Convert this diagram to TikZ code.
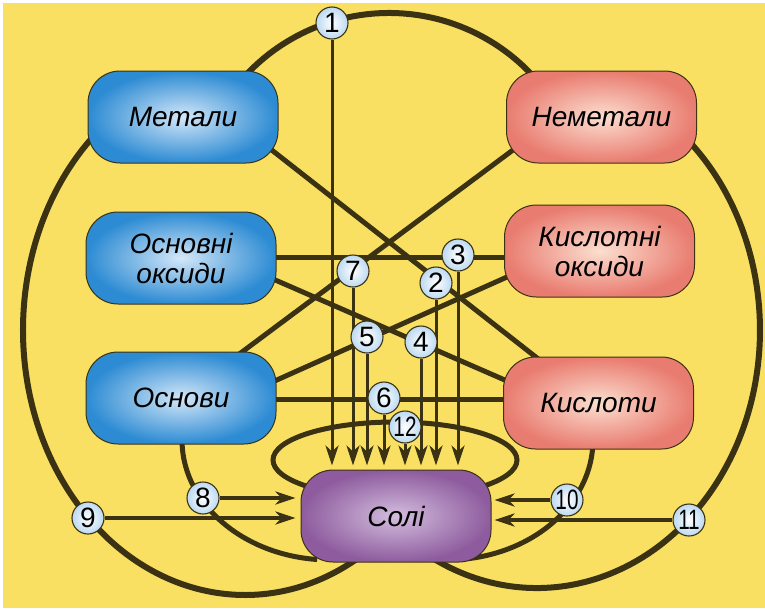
\documentclass[tikz,border=0pt]{standalone}
\usepackage{fontspec}
\usepackage{graphicx}
\setmainfont{Liberation Sans}
\usetikzlibrary{arrows.meta,calc}
\pgfdeclarelayer{paperlayer}
\pgfdeclarelayer{bg}
\pgfdeclarelayer{mid}
\pgfsetlayers{paperlayer,bg,mid,main}
\definecolor{paper}{HTML}{F9E063}
\definecolor{ink}{HTML}{3B3213}
\definecolor{bluein}{HTML}{D4E7F8}
\definecolor{blueout}{HTML}{2C8BD3}
\definecolor{redin}{HTML}{FBDFD0}
\definecolor{redout}{HTML}{E97C70}
\definecolor{violin}{HTML}{D3BDDE}
\definecolor{violout}{HTML}{8E5C9E}
\definecolor{numout}{HTML}{BCD9F1}
\newcommand\boxfont{\fontsize{28}{30}\selectfont\itshape}
\newcommand\numfont{\fontsize{28}{28}\selectfont}
\newcommand\narrow[1]{\scalebox{0.74}[1]{#1}}
\begin{document}
\begin{tikzpicture}[x=1pt,y=-1pt,
  box/.style={rectangle, rounded corners=32pt, minimum width=190pt,
    minimum height=92pt, draw=ink, line width=1pt, align=center,
    font=\boxfont, inner sep=0pt},
  bluebox/.style={box, inner color=bluein, outer color=blueout},
  redbox/.style={box, inner color=redin, outer color=redout},
  saltbox/.style={box, inner color=violin, outer color=violout},
  num/.style={circle, draw=ink, line width=1.1pt, inner color=white,
    outer color=numout, minimum size=32pt, inner sep=0pt, font=\numfont},
  big/.style={draw=ink, line width=6pt},
  link/.style={draw=ink, line width=5pt},
  varr/.style={draw=ink, line width=3pt,
    -{Stealth[length=20pt,width=13pt,inset=6pt]}, shorten >=4pt},
  harr/.style={draw=ink, line width=4pt,
    -{Stealth[length=20pt,width=13pt,inset=6pt]}},
]
\useasboundingbox (0,0) rectangle (765,608);
\begin{pgfonlayer}{paperlayer}
  \fill[white] (0,0) rectangle (765,608);
  \fill[paper] (3,3) rectangle (765,608);
\end{pgfonlayer}

% substance boxes
\node[bluebox] (met)  at (183,117)   {Метали};
\node[bluebox] (osok) at (181,258)   {Основні\\оксиди};
\node[bluebox] (osn)  at (181,398)   {Основи};
\node[redbox]  (nem)  at (601.5,117) {Неметали};
\node[redbox]  (kok)  at (599.5,251) {Кислотні\\оксиди};
\node[redbox]  (kys)  at (598.5,403) {Кислоти};
\node[saltbox] (soli) at (396,516)   {Солі};

% numbered reaction marks
\node[num] (n1)  at (332,23)  {1};
\node[num] (n2)  at (436,283) {2};
\node[num] (n3)  at (458,255) {3};
\node[num] (n4)  at (421,342) {4};
\node[num] (n5)  at (367,337) {5};
\node[num] (n6)  at (384,398) {6};
\node[num] (n7)  at (353,271) {7};
\node[num] (n8)  at (203,498) {8};
\node[num] (n9)  at (88,518)  {9};
\node[num] (n10) at (567,500) {\narrow{10}};
\node[num] (n11) at (689,520) {\narrow{11}};
\node[num] (n12) at (405,427) {\narrow{12}};

\begin{pgfonlayer}{bg}
  % outer loops
  \draw[big] ($(met.center)+(55.9,-34)$)
    arc[start angle=-140, end angle=-40, radius=196];
  \draw[big] ($(met.center)+(-80.7,10)$)
    arc[start angle=-130, end angle=-305, x radius=222, y radius=265];
  \draw[big] ($(nem.center)+(78.8,15.4)$)
    arc[start angle=-50, end angle=125, x radius=223, y radius=258];
  % inner loops
  \draw[link] ($(osn.center)+(1.6,31.5)$)
    arc[start angle=185, end angle=95, x radius=148, y radius=120];
  \draw[link] ($(kys.center)+(-6.1,26.5)$)
    arc[start angle=-5, end angle=82, x radius=146, y radius=120];
  \draw[link] ($(soli.center)+(-1,-56)$) ellipse[x radius=122, y radius=38];
  % pairs that react with each other
  \draw[link] ($(met.center)+(67,16)$) -- ($(kys.center)+(-38.5,-27)$);
  \draw[link] ($(nem.center)+(-71.5,20.3)$) -- ($(osn.center)+(39,-29.6)$);
  \draw[link] ($(osok.center)+(0,-1)$) -- ($(kok.center)+(0,6)$);
  \draw[link] ($(osok.center)+(69,11)$) -- ($(kys.center)+(-68.5,-12)$);
  \draw[link] ($(kok.center)+(-69.5,15.7)$) -- ($(osn.center)+(69,-6)$);
  \draw[link] ($(osn.center)+(0,1)$) -- ($(kys.center)+(0,-4)$);
\end{pgfonlayer}

\begin{pgfonlayer}{mid}
  \foreach \n in {n1,n7,n5,n6,n12,n4,n2,n3}
    \draw[varr] (\n) -- (\n |- soli.north);
  \draw[harr, shorten >=5pt] (n8) -- (n8 -| soli.west);
  \draw[harr, shorten >=5pt] (n9) -- (n9 -| soli.west);
  \draw[harr, shorten >=3pt] (n10) -- (n10 -| soli.east);
  \draw[harr, shorten >=3pt] (n11) -- (n11 -| soli.east);
\end{pgfonlayer}
\end{tikzpicture}
\end{document}
